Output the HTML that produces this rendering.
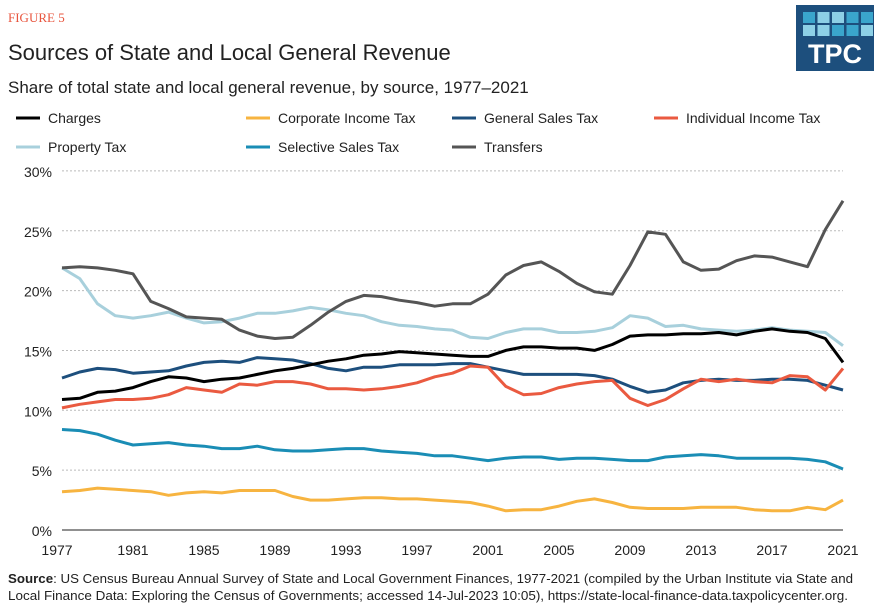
<!DOCTYPE html>
<html><head><meta charset="utf-8"><style>
body{margin:0;background:#fff;width:883px;height:610px;overflow:hidden;font-family:"Liberation Sans",sans-serif;}
</style></head><body>
<svg width="883" height="610" xmlns="http://www.w3.org/2000/svg" font-family="Liberation Sans, sans-serif">
<text x="8" y="22" fill="#e8553e" font-size="13" font-family="Liberation Serif, serif">FIGURE 5</text>
<text x="8" y="60" fill="#222" font-size="22">Sources of State and Local General Revenue</text>
<text x="8" y="93" fill="#222" font-size="17">Share of total state and local general revenue, by source, 1977–2021</text>
<rect x="796" y="5" width="78" height="66" fill="#1d4f7d"/>
<g id="logo"></g>
<text x="835" y="63" fill="#fff" font-size="27" font-weight="bold" text-anchor="middle">TPC</text>
<g font-size="14" fill="#222" id="legend"></g>
<g id="grid"></g>
<g id="lines" fill="none" stroke-width="3" stroke-linejoin="round"></g>
<text x="8" y="583" font-size="13.3" fill="#222" textLength="845" lengthAdjust="spacingAndGlyphs"><tspan font-weight="bold">Source</tspan>: US Census Bureau Annual Survey of State and Local Government Finances, 1977-2021 (compiled by the Urban Institute via State and</text>
<text x="8" y="600" font-size="13.3" fill="#222" textLength="840" lengthAdjust="spacingAndGlyphs">Local Finance Data: Exploring the Census of Governments; accessed 14-Jul-2023 10:05), https://state-local-finance-data.taxpolicycenter.org.</text>
</svg>
<script>
const NS="http://www.w3.org/2000/svg";
function el(p,t,a,txt){const e=document.createElementNS(NS,t);for(const k in a)e.setAttribute(k,a[k]);if(txt!=null)e.textContent=txt;document.getElementById(p).appendChild(e);}
for(let r=0;r<2;r++)for(let c=0;c<5;c++)el("logo","rect",{x:803+c*14.5,y:12+r*13,width:12,height:11,fill:r==0?["#3aa5cc","#8dd0e6","#8dd0e6","#3aa5cc","#3aa5cc"][c]:["#8dd0e6","#8dd0e6","#3aa5cc","#3aa5cc","#8dd0e6"][c]});
const x0=62,x1=843,yz=530,py=11.97;
const X=i=>x0+i*(x1-x0)/44, Y=v=>yz-v*py;
for(let v=0;v<=30;v+=5){
 if(v>0)el("grid","line",{x1:x0,x2:x1,y1:Y(v),y2:Y(v),stroke:"#bbb","stroke-dasharray":"2,2","stroke-width":1});
 el("grid","text",{x:52,y:Y(v)+6,"text-anchor":"end","font-size":14,fill:"#222"},v+"%");
}
el("grid","line",{x1:x0,x2:x1,y1:yz,y2:yz,stroke:"#222","stroke-width":1});
for(let i=0;i<=44;i+=4){el("grid","text",{x:(i==0?57:X(i)),y:yz+25,"text-anchor":"middle","font-size":14,fill:"#222"},1977+i);}
const S=[
["Property Tax","#a8d0dc",[21.9,21.0,18.9,17.9,17.7,17.9,18.2,17.7,17.3,17.4,17.7,18.1,18.1,18.3,18.6,18.4,18.1,17.9,17.4,17.1,17.0,16.8,16.7,16.1,16.0,16.5,16.8,16.8,16.5,16.5,16.6,16.9,17.9,17.7,17.0,17.1,16.8,16.7,16.6,16.7,16.9,16.7,16.6,16.5,15.4]],
["Corporate Income Tax","#f7b440",[3.2,3.3,3.5,3.4,3.3,3.2,2.9,3.1,3.2,3.1,3.3,3.3,3.3,2.8,2.5,2.5,2.6,2.7,2.7,2.6,2.6,2.5,2.4,2.3,2.0,1.6,1.7,1.7,2.0,2.4,2.6,2.3,1.9,1.8,1.8,1.8,1.9,1.9,1.9,1.7,1.6,1.6,1.9,1.7,2.5]],
["Selective Sales Tax","#1a8db5",[8.4,8.3,8.0,7.5,7.1,7.2,7.3,7.1,7.0,6.8,6.8,7.0,6.7,6.6,6.6,6.7,6.8,6.8,6.6,6.5,6.4,6.2,6.2,6.0,5.8,6.0,6.1,6.1,5.9,6.0,6.0,5.9,5.8,5.8,6.1,6.2,6.3,6.2,6.0,6.0,6.0,6.0,5.9,5.7,5.1]],
["General Sales Tax","#1d4f7d",[12.7,13.2,13.5,13.4,13.1,13.2,13.3,13.7,14.0,14.1,14.0,14.4,14.3,14.2,13.9,13.5,13.3,13.6,13.6,13.8,13.8,13.8,13.9,13.9,13.6,13.3,13.0,13.0,13.0,13.0,12.9,12.6,12.0,11.5,11.7,12.3,12.5,12.6,12.5,12.5,12.6,12.6,12.5,12.1,11.7]],
["Individual Income Tax","#ea5a40",[10.2,10.5,10.7,10.9,10.9,11.0,11.3,11.9,11.7,11.5,12.2,12.1,12.4,12.4,12.2,11.8,11.8,11.7,11.8,12.0,12.3,12.8,13.1,13.7,13.6,12.0,11.3,11.4,11.9,12.2,12.4,12.5,11.0,10.4,10.9,11.8,12.6,12.4,12.6,12.4,12.3,12.9,12.8,11.7,13.5]],
["Charges","#000",[10.9,11.0,11.5,11.6,11.9,12.4,12.8,12.7,12.4,12.6,12.7,13.0,13.3,13.5,13.8,14.1,14.3,14.6,14.7,14.9,14.8,14.7,14.6,14.5,14.5,15.0,15.3,15.3,15.2,15.2,15.0,15.5,16.2,16.3,16.3,16.4,16.4,16.5,16.3,16.6,16.8,16.6,16.5,16.0,14.0]],
["Transfers","#555",[21.9,22.0,21.9,21.7,21.4,19.1,18.5,17.8,17.7,17.6,16.7,16.2,16.0,16.1,17.1,18.2,19.1,19.6,19.5,19.2,19.0,18.7,18.9,18.9,19.7,21.3,22.1,22.4,21.6,20.6,19.9,19.7,22.1,24.9,24.7,22.4,21.7,21.8,22.5,22.9,22.8,22.4,22.0,25.1,27.5]]];
const C={};S.forEach(s=>C[s[0]]=s[1]);
S.forEach(s=>el("lines","polyline",{stroke:s[1],points:s[2].map((v,i)=>X(i).toFixed(1)+","+Y(v).toFixed(1)).join(" ")}));
const L=[["Charges",16,123],["Corporate Income Tax",246,123],["General Sales Tax",452,123],["Individual Income Tax",654,123],["Property Tax",16,152],["Selective Sales Tax",246,152],["Transfers",452,152]];
L.forEach(l=>{el("legend","line",{x1:l[1],x2:l[1]+24,y1:l[2]-5,y2:l[2]-5,stroke:C[l[0]],"stroke-width":3});el("legend","text",{x:l[1]+32,y:l[2]},l[0]);});
</script>
</body></html>
